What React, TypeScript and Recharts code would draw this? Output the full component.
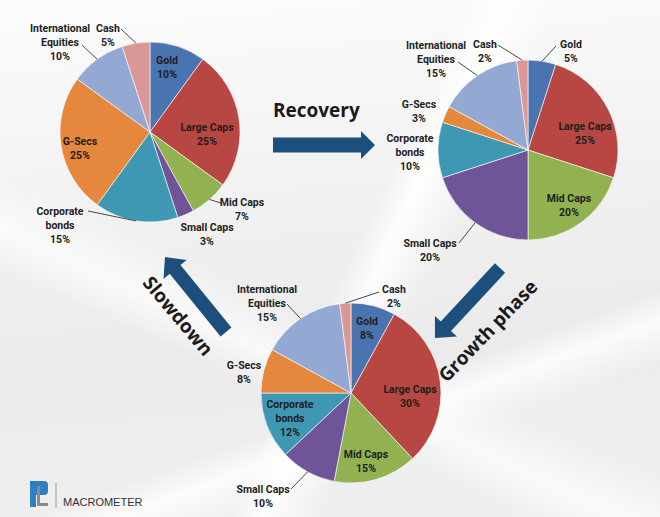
import React from 'react';
import { PieChart, Pie, Cell } from 'recharts';

// ---- data ----
const categories = [
  'Gold',
  'Large Caps',
  'Mid Caps',
  'Small Caps',
  'Corporate bonds',
  'G-Secs',
  'International Equities',
  'Cash',
];
const slowdownValues = [10, 25, 7, 3, 15, 25, 10, 5];
const recoveryValues = [5, 25, 20, 20, 10, 3, 15, 2];
const growthValues = [8, 30, 15, 10, 12, 8, 15, 2];
const phaseNames = ['Recovery', 'Growth phase', 'Slowdown'];

// ---- styles ----
const colors = ['#4a74b0', '#b84643', '#92b251', '#6f5597', '#3f98b3', '#e5873c', '#93a9d4', '#da9795'];
const ARROW = '#1c4f7c';
const LABEL_FONT = 'Roboto, "Open Sans", sans-serif';
const TITLE_FONT = '"Open Sans", Roboto, sans-serif';

const labelLines = categories.map((c) =>
  c === 'Corporate bonds' || c === 'International Equities' ? c.split(' ') : [c]
);

type LabelPos = { x: number; y: number; lx?: number; ly?: number };

// label offsets relative to pie centre (lx/ly = end of leader line)
const slowdownLayout: LabelPos[] = [
  { x: 17, y: -65 },
  { x: 57, y: 2 },
  { x: 92, y: 77, lx: 71, ly: 71 },
  { x: 57, y: 102 },
  { x: -90, y: 93, lx: -62, ly: 79 },
  { x: -70, y: 16 },
  { x: -90, y: -90, lx: -68, ly: -87 },
  { x: -42, y: -97, lx: -29, ly: -103 },
];
const recoveryLayout: LabelPos[] = [
  { x: 43, y: -99, lx: 28, ly: -104 },
  { x: 57, y: -17 },
  { x: 41, y: 55 },
  { x: -98, y: 100, lx: -69, ly: 93 },
  { x: -118, y: 2 },
  { x: -109, y: -39 },
  { x: -92, y: -91, lx: -70, ly: -88 },
  { x: -43, y: -99, lx: -30, ly: -105 },
];
const growthLayout: LabelPos[] = [
  { x: 16, y: -65 },
  { x: 59, y: 3 },
  { x: 15, y: 68 },
  { x: -88, y: 103, lx: -60, ly: 96 },
  { x: -61, y: 25 },
  { x: -107, y: -21 },
  { x: -84, y: -90, lx: -64, ly: -89 },
  { x: 43, y: -97, lx: 28, ly: -101 },
];

const RAD = Math.PI / 180;

function makeLabel(layout: LabelPos[]) {
  return (props: any) => {
    const { cx, cy, midAngle, outerRadius, index } = props;
    const L = layout[index];
    const val = props.value ?? props.payload?.value;
    const lines = [...labelLines[index], `${val}%`];
    const n = lines.length;
    const tx = cx + L.x;
    const top = cy + L.y - (n - 1) * 7 + 4;
    let leader = null;
    if (L.lx !== undefined && L.ly !== undefined) {
      const ex = cx + outerRadius * Math.cos(-midAngle * RAD);
      const ey = cy + outerRadius * Math.sin(-midAngle * RAD);
      leader = (
        <line x1={ex} y1={ey} x2={cx + L.lx} y2={cy + L.ly} stroke="#333" strokeWidth={0.9} />
      );
    }
    return (
      <g key={`lbl-${index}`}>
        {leader}
        <text
          x={tx}
          y={top}
          textAnchor="middle"
          fontFamily={LABEL_FONT}
          fontWeight="bold"
          fontSize={10.5}
          fill="#1e1e1e"
        >
          {lines.map((t, i) => (
            <tspan key={i} x={tx} y={top + i * 14}>
              {t}
            </tspan>
          ))}
        </text>
      </g>
    );
  };
}

const toRows = (vals: number[]) => categories.map((name, i) => ({ name, value: vals[i] }));
const slowdownData = toRows(slowdownValues);
const recoveryData = toRows(recoveryValues);
const growthData = toRows(growthValues);

function arrowPoints(x1: number, y1: number, x2: number, y2: number, sw: number, hw: number, hl: number) {
  const dx = x2 - x1;
  const dy = y2 - y1;
  const len = Math.sqrt(dx * dx + dy * dy);
  const ux = dx / len;
  const uy = dy / len;
  const px = -uy;
  const py = ux;
  const bx = x2 - ux * hl;
  const by = y2 - uy * hl;
  const pts = [
    [x1 + px * sw / 2, y1 + py * sw / 2],
    [bx + px * sw / 2, by + py * sw / 2],
    [bx + px * hw / 2, by + py * hw / 2],
    [x2, y2],
    [bx - px * hw / 2, by - py * hw / 2],
    [bx - px * sw / 2, by - py * sw / 2],
    [x1 - px * sw / 2, y1 - py * sw / 2],
  ];
  return pts.map((p) => `${p[0].toFixed(1)},${p[1].toFixed(1)}`).join(' ');
}

export default function App() {
  const pies = [
    { data: slowdownData, cx: 150, cy: 132, layout: slowdownLayout, id: 's' },
    { data: recoveryData, cx: 528, cy: 150, layout: recoveryLayout, id: 'r' },
    { data: growthData, cx: 351, cy: 393, layout: growthLayout, id: 'g' },
  ];
  return (
    <div
      style={{
        position: 'absolute',
        left: 0,
        top: 0,
        width: 660,
        height: 517,
        overflow: 'hidden',
        background:
          'linear-gradient(115deg, rgba(255,255,255,0) 52%, rgba(255,255,255,0.9) 56%, rgba(255,255,255,0) 62%),' +
          'linear-gradient(160deg, rgba(255,255,255,0) 70%, rgba(255,255,255,0.8) 74%, rgba(255,255,255,0) 80%),' +
          'linear-gradient(25deg, rgba(255,255,255,0) 30%, rgba(255,255,255,0.7) 35%, rgba(255,255,255,0) 42%),' +
          'linear-gradient(175deg, #fcfcfc 0%, #f2f2f2 35%, #ebebeb 65%, #f0f0f0 100%)',
      }}
    >
      <svg width={660} height={517} style={{ position: 'absolute', left: 0, top: 0 }}>
        <polygon points={arrowPoints(273, 145, 375, 145, 15, 28, 14)} fill={ARROW} />
        <polygon points={arrowPoints(500, 268, 435, 338, 14, 30, 16)} fill={ARROW} />
        <polygon points={arrowPoints(226, 332, 165, 257, 14, 30, 16)} fill={ARROW} />
        <text x={273} y={117} fontFamily={TITLE_FONT} fontWeight="bold" fontSize={19} fill="#1a1a1a">
          {phaseNames[0]}
        </text>
        <text
          x={488}
          y={331}
          dy="0.35em"
          textAnchor="middle"
          transform="rotate(-46 488 331)"
          fontFamily={TITLE_FONT}
          fontWeight="bold"
          fontSize={19}
          fill="#1a1a1a"
        >
          {phaseNames[1]}
        </text>
        <text
          x={178}
          y={316}
          dy="0.35em"
          textAnchor="middle"
          transform="rotate(50 178 316)"
          fontFamily={TITLE_FONT}
          fontWeight="bold"
          fontSize={19}
          fill="#1a1a1a"
        >
          {phaseNames[2]}
        </text>
        {/* logo */}
        <path d="M30 481 H44 Q48 481 48 485 V491 Q48 495 44 495 H36 V507 H30 Z" fill="#2d7fc1" />
        <rect x={37} y={486} width={3} height={20} fill="#8a8a8a" />
        <rect x={37} y={503} width={11} height={3} fill="#8a8a8a" />
        <line x1={56} y1={483} x2={56} y2={508} stroke="#9a9a9a" strokeWidth={1} />
        <text x={63} y={506} fontFamily='"Liberation Sans", Arial, sans-serif' fontSize={11} fill="#333">
          MACROMETER
        </text>
      </svg>
      <div style={{ position: 'absolute', left: 0, top: 0 }}>
        <PieChart width={660} height={517} margin={{ top: 0, right: 0, bottom: 0, left: 0 }}>
          {pies.map((p) => (
            <Pie
              key={p.id}
              data={p.data}
              dataKey="value"
              nameKey="name"
              cx={p.cx}
              cy={p.cy}
              outerRadius={90}
              startAngle={90}
              endAngle={-270}
              stroke="#ffffff"
              strokeWidth={0.6}
              label={makeLabel(p.layout)}
              labelLine={false}
              isAnimationActive={false}
            >
              {p.data.map((d, i) => (
                <Cell key={`${p.id}-${i}`} fill={colors[i]} />
              ))}
            </Pie>
          ))}
        </PieChart>
      </div>
    </div>
  );
}
